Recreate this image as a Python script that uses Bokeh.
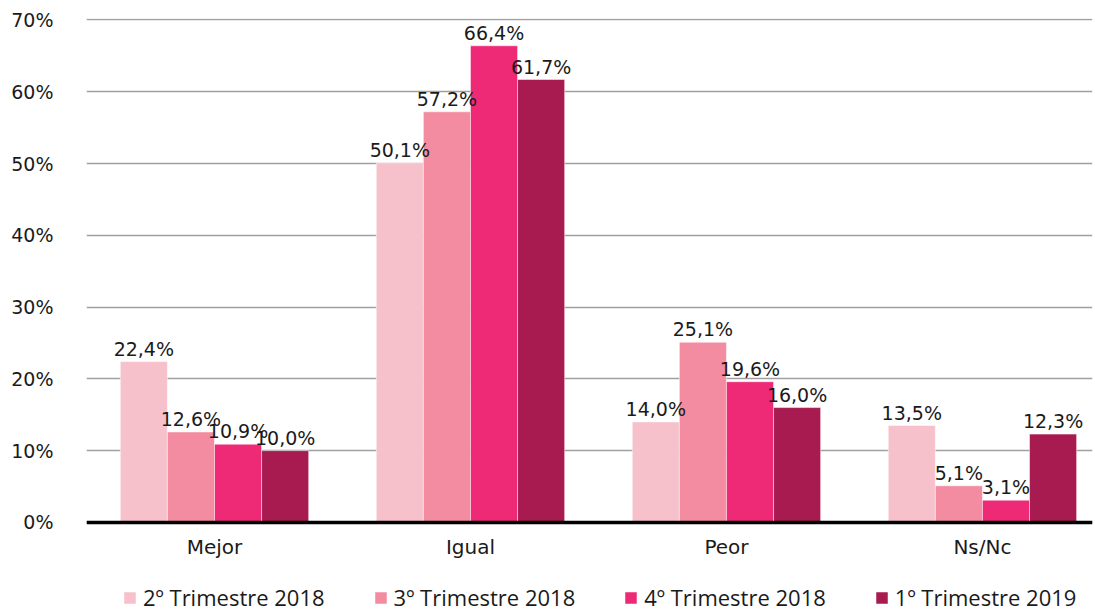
from bokeh.plotting import figure
from bokeh.models import (ColumnDataSource, Range1d, LabelSet, Legend, LegendItem,
                          FixedTicker, CustomJSTickFormatter, Span)
from bokeh.core.properties import value
from bokeh.transform import dodge
from bokeh.embed import file_html
from bokeh.resources import INLINE

categories = ["Mejor", "Igual", "Peor", "Ns/Nc"]
series = ["2º Trimestre 2018", "3º Trimestre 2018", "4º Trimestre 2018", "1º Trimestre 2019"]
values = {
    "2º Trimestre 2018": [22.4, 50.1, 14.0, 13.5],
    "3º Trimestre 2018": [12.6, 57.2, 25.1, 5.1],
    "4º Trimestre 2018": [10.9, 66.4, 19.6, 3.1],
    "1º Trimestre 2019": [10.0, 61.7, 16.0, 12.3],
}
colors = ["#F7C1CB", "#F38BA1", "#EE2A77", "#A81B50"]
y_ticks = [0, 10, 20, 30, 40, 50, 60, 70]

# category slots: slot i spans [i, i+1]; the last slot runs past the right edge as in the reference
cat_x = [i + 0.5 for i in range(len(categories))]

p = figure(x_range=Range1d(0, 3.93), y_range=Range1d(-12.55, 70.2),
           width=1093, height=612, output_backend="svg", toolbar_location=None,
           min_border_left=86, min_border_right=1, min_border_top=18, min_border_bottom=0)
p.outline_line_color = None
p.xaxis.visible = False

bw = 0.184
offsets = [-1.5 * bw, -0.5 * bw, 0.5 * bw, 1.5 * bw]
items = []
for s, c, off in zip(series, colors, offsets):
    vals = values[s]
    src = ColumnDataSource(dict(x=cat_x, v=vals,
                                lab=[("%.1f" % v).replace(".", ",") + "%" for v in vals]))
    r = p.vbar(x=dodge("x", off), top="v", width=bw, source=src,
               fill_color=c, line_color="white", line_width=0.5)
    items.append(LegendItem(label=s, renderers=[r]))
    p.add_layout(LabelSet(x=dodge("x", off), y="v", text="lab", source=src,
                          text_align="center", text_baseline="bottom", y_offset=2,
                          text_font=value("DejaVu Sans"), text_font_size=value("19px"),
                          text_color="#1a1a1a"))

p.add_layout(Span(location=0, dimension="width", line_color="black", line_width=3.5))

cat_src = ColumnDataSource(dict(x=cat_x, y=[0] * len(categories), cat=categories))
p.add_layout(LabelSet(x="x", y="y", text="cat", source=cat_src, y_offset=-25,
                      text_align="center", text_baseline="middle",
                      text_font=value("DejaVu Sans"), text_font_size=value("20px"),
                      text_color="#1a1a1a"))

p.yaxis.ticker = FixedTicker(ticks=y_ticks)
p.yaxis.formatter = CustomJSTickFormatter(code="return tick + '%';")
p.yaxis.axis_line_color = None
p.yaxis.major_tick_line_color = None
p.yaxis.minor_tick_line_color = None
p.yaxis.major_label_text_font = "DejaVu Sans"
p.yaxis.major_label_text_font_size = "19px"
p.yaxis.major_label_text_color = "#1a1a1a"
p.yaxis.major_label_standoff = 27

p.xgrid.grid_line_color = None
p.ygrid.ticker = FixedTicker(ticks=y_ticks)
p.ygrid.grid_line_color = "#A0A0A0"
p.ygrid.grid_line_width = 1.5

legend = Legend(items=items, orientation="horizontal", location=(36, 0),
                glyph_width=15, glyph_height=15, label_standoff=6, spacing=48,
                label_text_font="Open Sans", label_text_font_size="22px",
                label_text_color="#1a1a1a", border_line_color=None, background_fill_alpha=0,
                margin=0, padding=0)
p.add_layout(legend, "center")

open("out.html", "w").write(file_html(p, INLINE))
